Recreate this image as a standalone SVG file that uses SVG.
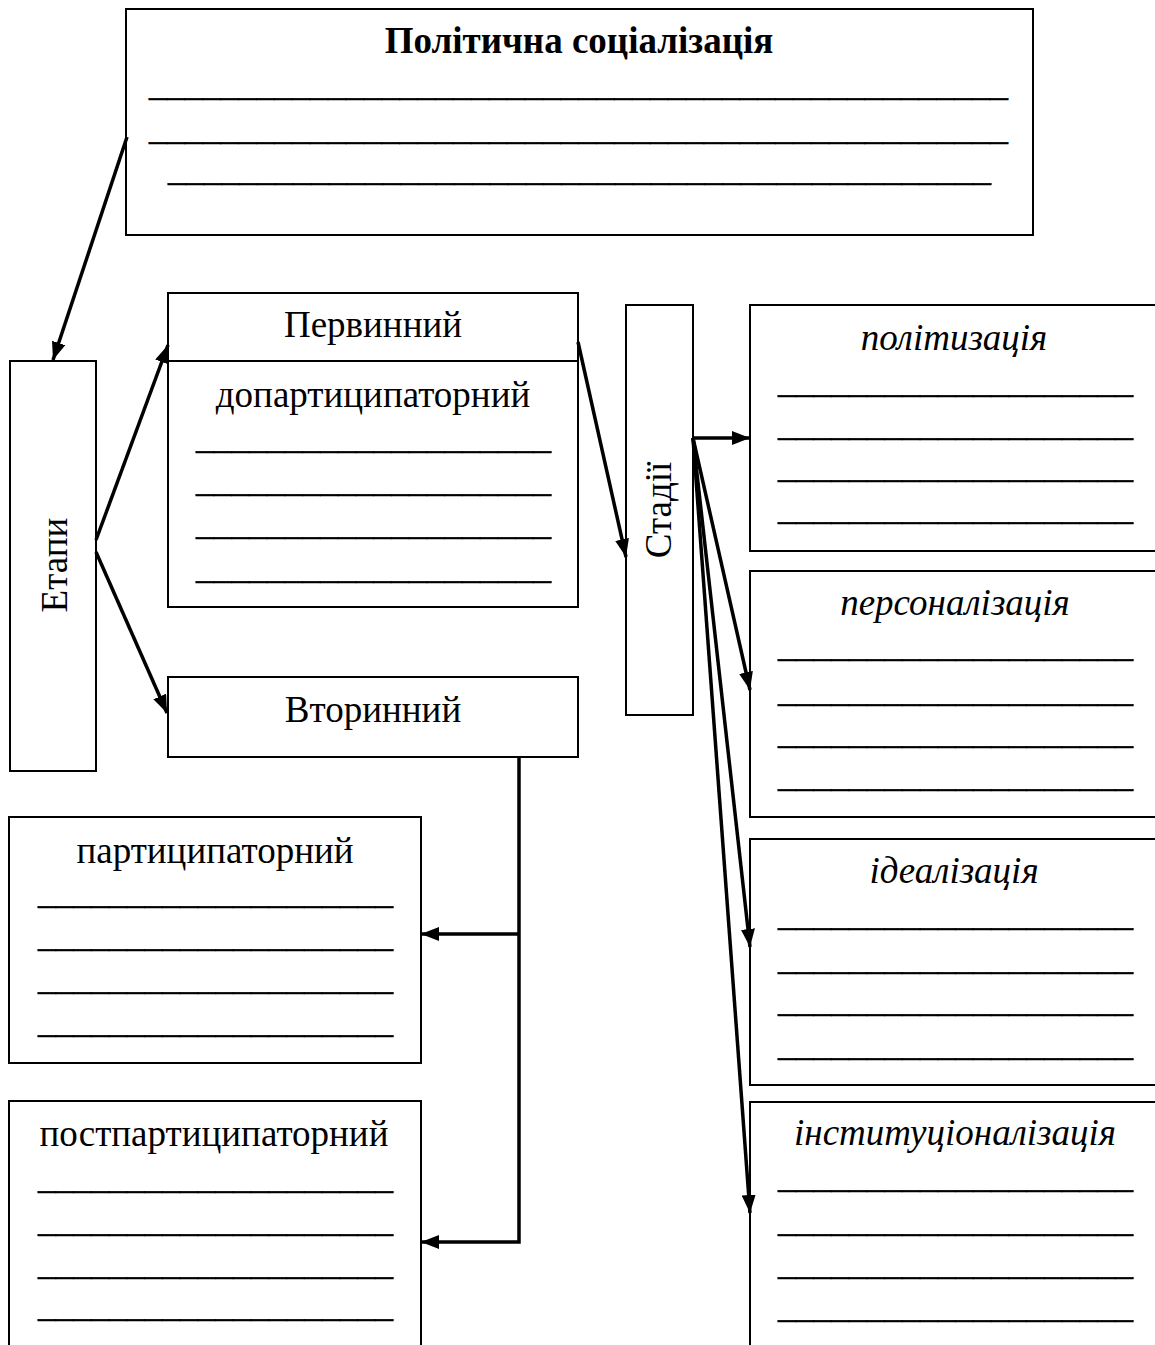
<svg xmlns="http://www.w3.org/2000/svg" width="1155" height="1345" viewBox="0 0 1155 1345">
<style>
.box{fill:#fff;stroke:#000;stroke-width:2}
.t{font-family:"Liberation Serif","Times New Roman",serif;font-size:37px;fill:#000;text-anchor:middle}
.i{font-style:italic}
.b{font-weight:bold}
.u{font-family:"Liberation Serif","Times New Roman",serif;font-size:36px;fill:#000;stroke:#000;stroke-width:0.6}
.c{fill:none;stroke:#000;stroke-width:3.5}
</style>
<defs>
<marker id="ah" markerUnits="userSpaceOnUse" markerWidth="18" markerHeight="14" refX="18" refY="7" orient="auto">
<path d="M0,0 L18,7 L0,14 z" fill="#000"/>
</marker>
</defs>
<rect width="1155" height="1345" fill="#fff"/>

<g id="title">
<rect class="box" x="126" y="9" width="907" height="226"/>
<text class="t b" x="579" y="53">Політична соціалізація</text>
<text class="u" x="149" y="95" textLength="859" lengthAdjust="spacingAndGlyphs">________________________________________________</text>
<text class="u" x="149" y="139" textLength="859" lengthAdjust="spacingAndGlyphs">________________________________________________</text>
<text class="u" x="168" y="180" textLength="823" lengthAdjust="spacingAndGlyphs">______________________________________________</text>
</g>

<g id="etapy">
<rect class="box" x="10" y="361" width="86" height="410"/>
<text class="t" transform="translate(67,565) rotate(-90)">Етапи</text>
</g>

<g id="pervynnyi">
<rect class="box" x="168" y="293" width="410" height="314"/>
<line x1="168" y1="361" x2="578" y2="361" stroke="#000" stroke-width="2"/>
<text class="t" x="373" y="337">Первинний</text>
<text class="t" x="373" y="407">допартиципаторний</text>
<text class="u" x="196" y="448" textLength="355" lengthAdjust="spacingAndGlyphs">____________________</text>
<text class="u" x="196" y="491" textLength="355" lengthAdjust="spacingAndGlyphs">____________________</text>
<text class="u" x="196" y="534" textLength="355" lengthAdjust="spacingAndGlyphs">____________________</text>
<text class="u" x="196" y="578" textLength="355" lengthAdjust="spacingAndGlyphs">____________________</text>
</g>

<g id="vtorynnyi">
<rect class="box" x="168" y="677" width="410" height="80"/>
<text class="t" x="373" y="722">Вторинний</text>
</g>

<g id="partyc">
<rect class="box" x="9" y="817" width="412" height="246"/>
<text class="t" x="215" y="863">партиципаторний</text>
<text class="u" x="38" y="903" textLength="355" lengthAdjust="spacingAndGlyphs">____________________</text>
<text class="u" x="38" y="946" textLength="355" lengthAdjust="spacingAndGlyphs">____________________</text>
<text class="u" x="38" y="989" textLength="355" lengthAdjust="spacingAndGlyphs">____________________</text>
<text class="u" x="38" y="1032" textLength="355" lengthAdjust="spacingAndGlyphs">____________________</text>
</g>

<g id="postpartyc">
<rect class="box" x="9" y="1101" width="412" height="270"/>
<text class="t" x="214" y="1146">постпартиципаторний</text>
<text class="u" x="38" y="1188" textLength="355" lengthAdjust="spacingAndGlyphs">____________________</text>
<text class="u" x="38" y="1231" textLength="355" lengthAdjust="spacingAndGlyphs">____________________</text>
<text class="u" x="38" y="1274" textLength="355" lengthAdjust="spacingAndGlyphs">____________________</text>
<text class="u" x="38" y="1316" textLength="355" lengthAdjust="spacingAndGlyphs">____________________</text>
</g>

<g id="stadii">
<rect class="box" x="626" y="305" width="67" height="410"/>
<text class="t" transform="translate(671,510) rotate(-90)">Стадії</text>
</g>

<g id="politization">
<rect class="box" x="750" y="305" width="412" height="246"/>
<text class="t i" x="954" y="350">політизація</text>
<text class="u" x="778" y="392" textLength="355" lengthAdjust="spacingAndGlyphs">____________________</text>
<text class="u" x="778" y="435" textLength="355" lengthAdjust="spacingAndGlyphs">____________________</text>
<text class="u" x="778" y="477" textLength="355" lengthAdjust="spacingAndGlyphs">____________________</text>
<text class="u" x="778" y="519" textLength="355" lengthAdjust="spacingAndGlyphs">____________________</text>
</g>

<g id="personalization">
<rect class="box" x="750" y="571" width="412" height="246"/>
<text class="t i" x="955" y="615">персоналізація</text>
<text class="u" x="778" y="656" textLength="355" lengthAdjust="spacingAndGlyphs">____________________</text>
<text class="u" x="778" y="701" textLength="355" lengthAdjust="spacingAndGlyphs">____________________</text>
<text class="u" x="778" y="743" textLength="355" lengthAdjust="spacingAndGlyphs">____________________</text>
<text class="u" x="778" y="786" textLength="355" lengthAdjust="spacingAndGlyphs">____________________</text>
</g>

<g id="idealization">
<rect class="box" x="750" y="839" width="412" height="246"/>
<text class="t i" x="954" y="883">ідеалізація</text>
<text class="u" x="778" y="925" textLength="355" lengthAdjust="spacingAndGlyphs">____________________</text>
<text class="u" x="778" y="969" textLength="355" lengthAdjust="spacingAndGlyphs">____________________</text>
<text class="u" x="778" y="1011" textLength="355" lengthAdjust="spacingAndGlyphs">____________________</text>
<text class="u" x="778" y="1055" textLength="355" lengthAdjust="spacingAndGlyphs">____________________</text>
</g>

<g id="institutionalization">
<rect class="box" x="750" y="1102" width="412" height="270"/>
<text class="t i" x="955" y="1145">інституціоналізація</text>
<text class="u" x="778" y="1187" textLength="355" lengthAdjust="spacingAndGlyphs">____________________</text>
<text class="u" x="778" y="1231" textLength="355" lengthAdjust="spacingAndGlyphs">____________________</text>
<text class="u" x="778" y="1274" textLength="355" lengthAdjust="spacingAndGlyphs">____________________</text>
<text class="u" x="778" y="1317" textLength="355" lengthAdjust="spacingAndGlyphs">____________________</text>
</g>

<g id="connectors">
<line class="c" x1="127" y1="137" x2="53" y2="360" marker-end="url(#ah)"/>
<line class="c" x1="96" y1="540" x2="168" y2="345" marker-end="url(#ah)"/>
<line class="c" x1="96" y1="552" x2="167" y2="713" marker-end="url(#ah)"/>
<line class="c" x1="578" y1="342" x2="626" y2="557" marker-end="url(#ah)"/>
<line class="c" x1="693" y1="438" x2="750" y2="438" marker-end="url(#ah)"/>
<line class="c" x1="693" y1="438" x2="750" y2="690" marker-end="url(#ah)"/>
<line class="c" x1="693" y1="438" x2="750" y2="947" marker-end="url(#ah)"/>
<line class="c" x1="693" y1="438" x2="750" y2="1213" marker-end="url(#ah)"/>
<polyline class="c" points="519,757 519,1242 421,1242" marker-end="url(#ah)"/>
<line class="c" x1="519" y1="934" x2="421" y2="934" marker-end="url(#ah)"/>
</g>
</svg>
